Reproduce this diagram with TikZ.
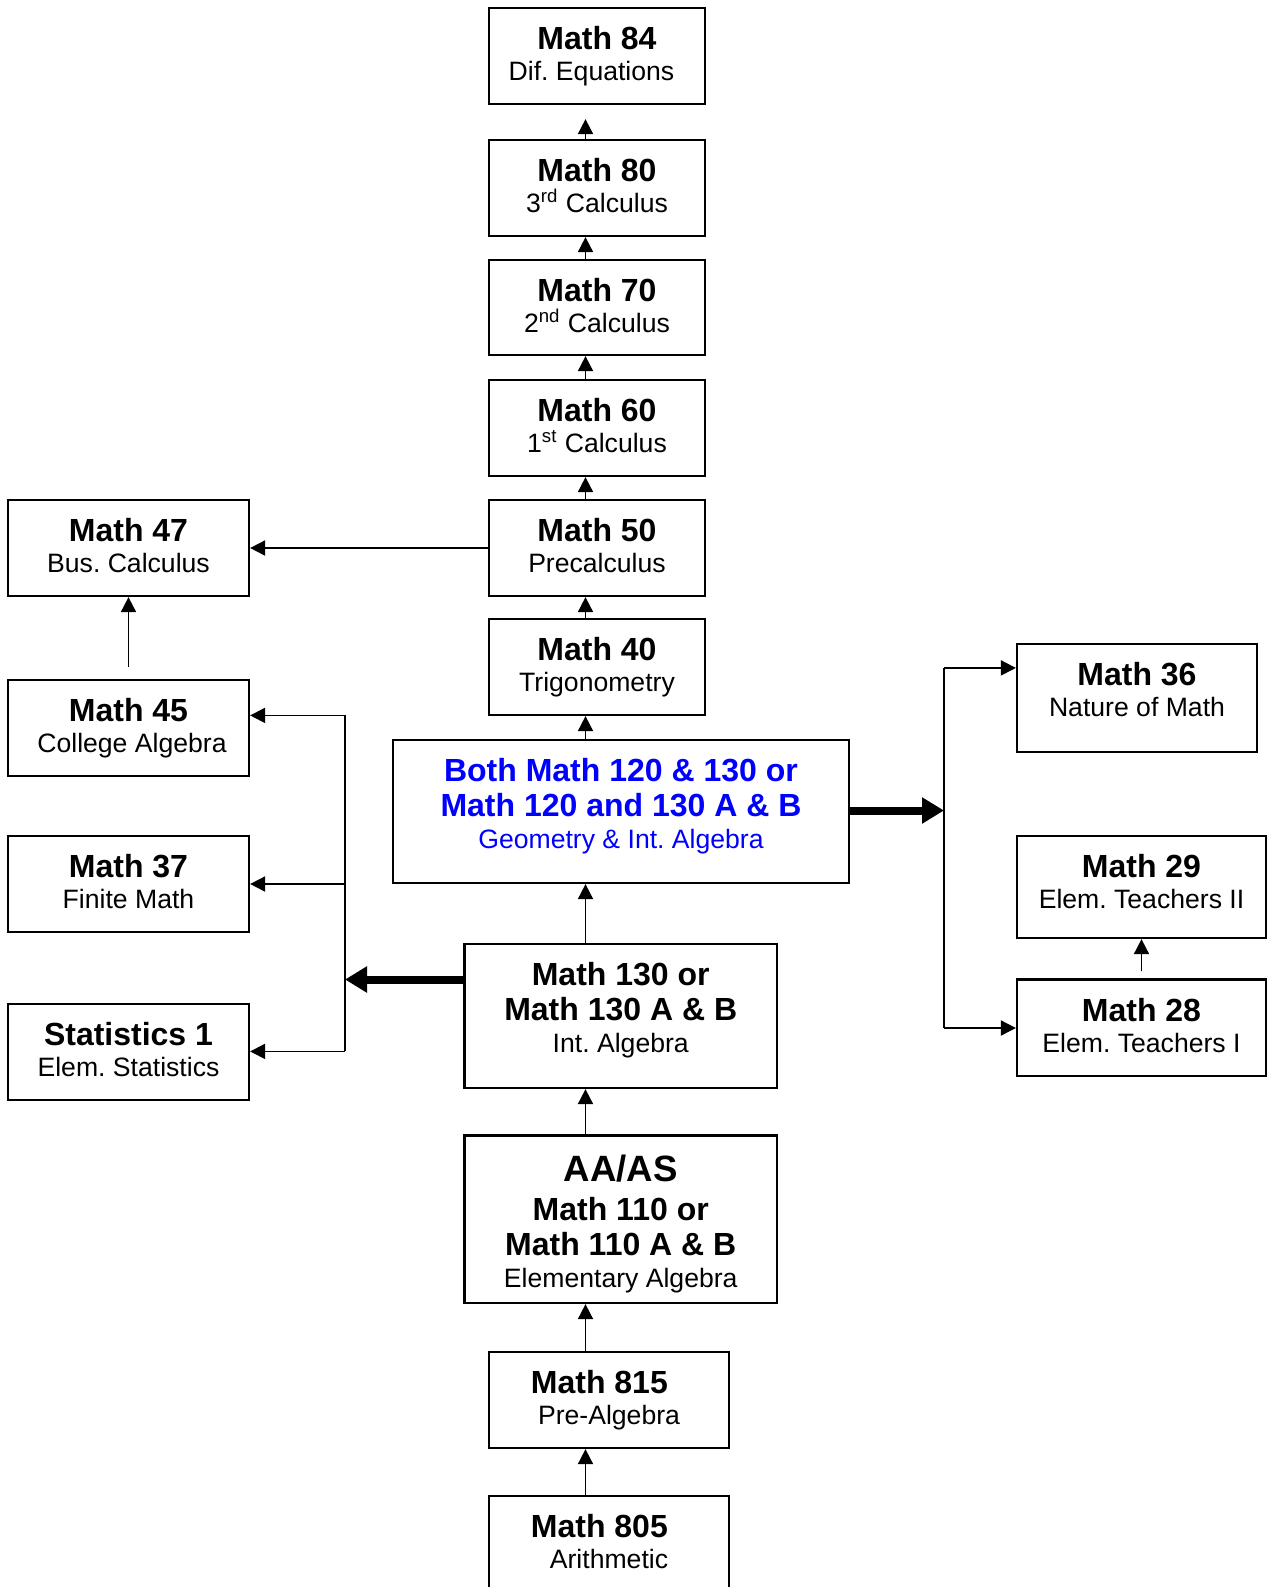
\documentclass[tikz,border=0pt]{standalone}
\usepackage{fontspec}
\setmainfont{Liberation Sans}
\usetikzlibrary{arrows.meta,fit}
\frenchspacing
\newcommand{\ttl}[1]{{\fontsize{16pt}{17.4pt}\selectfont\bfseries #1}}
\newcommand{\degttl}[1]{{\fontsize{18.3pt}{20pt}\selectfont\bfseries #1}}
% box from (#3,#4) to (#5,#6), text hung from its top edge
\newcommand{\course}[7][]{%
  \node[crsbox, fit={(#3,#4) (#5,#6)}] (#2) {};
  \node[crstext, anchor=north, #1] (#2-txt) at ([yshift=-9.6pt]#2.north) {#7};
}

\begin{document}
\begin{tikzpicture}[x=0.5pt, y=-0.5pt,
    crsbox/.style={draw, line width=1.1pt, inner sep=0pt},
    crstext/.style={align=center, inner sep=0pt, font=\fontsize{13.3pt}{17.4pt}\selectfont},
    arr/.style={-{Triangle[length=7.5pt,width=7.5pt]}, line width=0.9pt},
    fatarr/.style={-{Triangle[length=11pt,width=12.5pt]}, line width=4pt}]
  \useasboundingbox (0,0) rectangle (1271,1587);
  % ---------------------------------------------------------------- middle column
  \course{m84}{489}{8}{705}{104}{\ttl{Math 84}\\[-2pt]Dif. Equations\hspace*{5.5pt}}
  \course{m80}{489}{140}{705}{236}{\ttl{Math 80}\\[-2pt]3\textsuperscript{rd} Calculus}
  \course{m70}{489}{260}{705}{355}{\ttl{Math 70}\\[-2pt]2\textsuperscript{nd} Calculus}
  \course{m60}{489}{380}{705}{476}{\ttl{Math 60}\\[-2pt]1\textsuperscript{st} Calculus}
  \course{m50}{489}{500}{705}{596}{\ttl{Math 50}\\[-2pt]Precalculus}
  \course{m40}{489}{619}{705}{715}{\ttl{Math 40}\\[-2pt]Trigonometry}
  \course[text=blue]{geo}{393}{740}{849}{883}
    {\ttl{Both Math 120 \& 130 or}\\ \ttl{Math 120 and 130 A \& B}\\[-1.5pt] Geometry \& Int. Algebra}
  \course{m130}{464.5}{944}{777}{1088}{\ttl{Math 130 or}\\ \ttl{Math 130 A \& B}\\[-1.5pt] Int. Algebra}
  \course[yshift=-0.4pt]{aa}{464.5}{1135.5}{777}{1303}
    {\degttl{AA/AS}\\[2.3pt]\ttl{Math 110 or}\\ \ttl{Math 110 A \& B}\\[-1.2pt] Elementary Algebra}
  \course{m815}{489}{1352}{729}{1448}{\ttl{Math 815}\hspace*{9.6pt}\\[-2pt]Pre-Algebra}
  \course{m805}{489}{1496}{729}{1600}{\ttl{Math 805}\hspace*{9.6pt}\\[-2pt]Arithmetic}
  % ---------------------------------------------------------------- left column
  \course{m47}{8}{500}{249}{596}{\ttl{Math 47}\\[-2pt]Bus. Calculus}
  \course{m45}{8}{680}{249}{776}{\ttl{Math 45}\\[-2pt]\hspace*{3.5pt}College Algebra}
  \course{m37}{8}{836}{249}{932}{\ttl{Math 37}\\[-2pt]Finite Math}
  \course{stat}{8}{1004}{249}{1100}{\ttl{Statistics 1}\\[-2pt]Elem. Statistics}
  % ---------------------------------------------------------------- right column
  \course{m36}{1017}{644}{1257}{752}{\ttl{Math 36}\\[-2pt]Nature of Math}
  \course{m29}{1017}{836}{1266}{938}{\ttl{Math 29}\\[-2pt]Elem. Teachers II}
  \course{m28}{1017}{979.5}{1266}{1075.6}{\ttl{Math 28}\\[-2pt]Elem. Teachers I}
  % ---------------------------------------------------------------- spine and buses
  \coordinate (spine) at (585.5,0);
  \coordinate (lt) at (345,715.4);
  \coordinate (lh) at (345,979.5);
  \coordinate (lb) at (345,1051.4);
  \coordinate (rt) at (944,667.9);
  \coordinate (rh) at (944,810.5);
  \coordinate (rb) at (944,1028);
  % up the middle
  \draw[arr] (m805.north -| spine) -- (m815.south -| spine);
  \draw[arr] (m815.north -| spine) -- (aa.south -| spine);
  \draw[arr] (aa.north -| spine) -- (m130.south -| spine);
  \draw[arr] (m130.north -| spine) -- (geo.south -| spine);
  \draw[arr] (geo.north -| spine) -- (m40.south -| spine);
  \draw[arr] (m40.north -| spine) -- (m50.south -| spine);
  \draw[arr] (m50.north -| spine) -- (m60.south -| spine);
  \draw[arr] (m60.north -| spine) -- (m70.south -| spine);
  \draw[arr] (m70.north -| spine) -- (m80.south -| spine);
  \draw[arr, shorten >=7pt] (m80.north -| spine) -- (m84.south -| spine);
  % left side
  \draw[arr] (m50.west) -- (m47.east);
  \draw[arr, shorten <=6pt] (m45.north -| m47.south) -- (m47.south);
  \draw[fatarr] (m130.west |- lh) -- (lh);
  \draw[line width=0.9pt] (lt) -- (lb);
  \draw[arr] (lt) -- (m45.east |- lt);
  \draw[arr] (lt |- m37.east) -- (m37.east);
  \draw[arr] (lb) -- (stat.east |- lb);
  % right side
  \draw[fatarr] (geo.east |- rh) -- (rh);
  \draw[line width=0.9pt] (rt) -- (rb);
  \draw[arr] (rt) -- (m36.west |- rt);
  \draw[arr] (rb) -- (m28.west |- rb);
  \draw[arr, shorten <=3.5pt] (m28.north) -- (m29.south);
\end{tikzpicture}
\end{document}
